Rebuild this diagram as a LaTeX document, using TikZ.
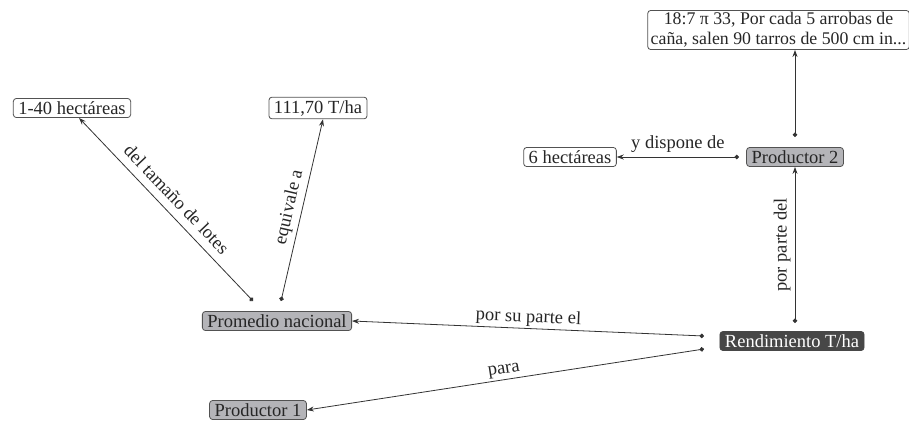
\documentclass[tikz,border=0pt]{standalone}
\usepackage{fontspec}
\setmainfont{Liberation Serif}
\usetikzlibrary{arrows.meta}
\definecolor{linec}{HTML}{333333}
\definecolor{grayfill}{HTML}{B4B4B8}
\definecolor{darkfill}{HTML}{474747}
\tikzset{
  x=1pt,y=-1pt,
  every node/.style={font=\rmfamily\fontsize{18.5}{21}\selectfont},
  whitebox/.style={draw=linec!85,line width=0.8pt,rounded corners=3pt,fill=white,inner xsep=5pt,inner ysep=3pt,text=black!85},
  graybox/.style={whitebox,fill=grayfill},
  darkbox/.style={whitebox,fill=darkfill,draw=darkfill,text=white},
  conn/.style={draw=linec,line width=0.8pt,{Circle[length=4.5pt]}-{Stealth[length=7pt,width=5pt]}},
  lbl/.style={text=black!85,inner sep=2pt},
}
\begin{document}
\begin{tikzpicture}
\useasboundingbox (0,0) rectangle (909,421);
\node[whitebox] (h140) at (72,108) {1-40 hectáreas};
\node[whitebox] (t111) at (318,108) {111,70 T/ha};
\node[graybox] (prom) at (277,321) {Promedio nacional};
\node[graybox] (p1) at (258,410) {Productor 1};
\node[darkbox] (rend) at (792,341) {Rendimiento T/ha};
\node[graybox] (p2) at (795,157) {Productor 2};
\node[whitebox] (h6) at (570,157) {6 hectáreas};
\node[whitebox,align=center,inner xsep=3pt,inner ysep=2pt,font=\rmfamily\fontsize{17.8}{21}\selectfont] (top) at (778.5,30) {18:7 π 33, Por cada 5 arrobas de\\[-1pt]caña, salen 90 tarros de 500 cm in...};

\coordinate (s1) at (253,301);
\coordinate (s2) at (281,301);
\coordinate (s3) at (704,336);
\coordinate (s4) at (704,349);
\coordinate (s5) at (795,323);
\coordinate (s6) at (739,157);
\coordinate (s7) at (795,137);

\draw[conn] (s1) -- (h140.south east -| 79,0) node[lbl,midway,sloped,above,yshift=6pt] {del tamaño de lotes};
\draw[conn] (s2) -- (t111.south -| 323,0) node[lbl,midway,sloped,above,yshift=2pt] {equivale a};
\draw[conn] (s3) -- (prom.east) node[lbl,midway,sloped,above] {por su parte el};
\draw[conn] (s4) -- (p1.east) node[lbl,midway,sloped,above] {para};
\draw[conn] (s5) -- (p2.south) node[lbl,midway,sloped,above,yshift=2pt] {por parte del};
\draw[conn] (s6) -- (h6.east) node[lbl,midway,above,yshift=2pt] {y dispone de};
\draw[conn] (s7) -- (top.south -| s7);
\end{tikzpicture}
\end{document}
